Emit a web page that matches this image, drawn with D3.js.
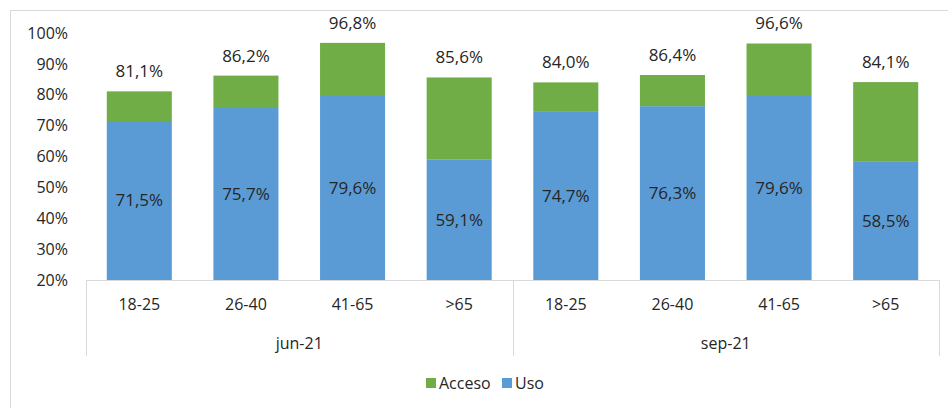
<!DOCTYPE html>
<html>
<head>
<meta charset="utf-8">
<script src="https://cdn.jsdelivr.net/npm/d3@7"></script>
<style>
  body { margin: 0; background: #fff; }
  text { font-family: "Open Sans", "Liberation Sans", sans-serif; fill: #262626; }
</style>
</head>
<body>
<div id="chart"></div>
<script>
// Data
const periods = ['jun-21', 'sep-21'];
const ageGroups = ['18-25', '26-40', '41-65', '>65'];
const usoJun = [71.5, 75.7, 79.6, 59.1];
const totalJun = [81.1, 86.2, 96.8, 85.6];
const usoSep = [74.7, 76.3, 79.6, 58.5];
const totalSep = [84.0, 86.4, 96.6, 84.1];
const yTicks = [20, 30, 40, 50, 60, 70, 80, 90, 100];

const WIDTH = 948;
const HEIGHT = 408;
const LEFT = 86;
const RIGHT = 939;
const TOP = 33;
const BOTTOM = 280;
const BLUE = '#5B9BD5';
const GREEN = '#70AD47';
const FONT = 16;

// one row per bar
const rows = [];
[[usoJun, totalJun], [usoSep, totalSep]].forEach(function(pair, p) {
  ageGroups.forEach(function(g, i) {
    rows.push({ key: periods[p] + '|' + g, age: g, period: periods[p], uso: pair[0][i], total: pair[1][i] });
  });
});

const fmt = v => v.toFixed(1).replace('.', ',') + '%';

const svg = d3.select('#chart').append('svg')
  .attr('width', WIDTH)
  .attr('height', HEIGHT);

// outer frame
svg.append('rect')
  .attr('x', 10.5).attr('y', 10.5)
  .attr('width', WIDTH).attr('height', HEIGHT)
  .attr('fill', 'none').attr('stroke', '#d9d9d9');

const xScale = d3.scaleBand()
  .domain(rows.map(d => d.key))
  .range([LEFT, RIGHT])
  .paddingInner(0.39)
  .paddingOuter(0.195);

const yScale = d3.scaleLinear()
  .domain([20, 100])
  .range([BOTTOM, TOP]);

// y axis labels
const yAxis = d3.axisLeft(yScale).tickValues(yTicks).tickFormat(d => d + '%').tickSize(0).tickPadding(0);
const gy = svg.append('g')
  .attr('transform', 'translate(68,0)')
  .call(yAxis);
gy.select('.domain').remove();
gy.selectAll('text').style('font-size', FONT + 'px').style('font-family', '"Open Sans", "Liberation Sans", sans-serif').attr('fill', '#262626');

// Uso bars
svg.selectAll('rect.uso')
  .data(rows)
  .enter()
  .append('rect')
  .attr('class', 'uso')
  .attr('x', d => xScale(d.key))
  .attr('y', d => yScale(d.uso))
  .attr('width', xScale.bandwidth())
  .attr('height', d => yScale(20) - yScale(d.uso))
  .attr('fill', BLUE);

// Acceso bars (stacked on Uso)
svg.selectAll('rect.acceso')
  .data(rows)
  .enter()
  .append('rect')
  .attr('class', 'acceso')
  .attr('x', d => xScale(d.key))
  .attr('y', d => yScale(d.total))
  .attr('width', xScale.bandwidth())
  .attr('height', d => yScale(d.uso) - yScale(d.total))
  .attr('fill', GREEN);

// labels inside the Uso part
svg.selectAll('text.uso-label')
  .data(rows)
  .enter()
  .append('text')
  .attr('class', 'uso-label')
  .attr('x', d => xScale(d.key) + xScale.bandwidth() / 2)
  .attr('y', d => yScale((20 + d.uso) / 2))
  .attr('dy', '0.35em')
  .attr('text-anchor', 'middle')
  .style('font-size', (FONT + 1) + 'px')
  .text(d => fmt(d.uso));

// total labels above each bar
svg.selectAll('text.total-label')
  .data(rows)
  .enter()
  .append('text')
  .attr('class', 'total-label')
  .attr('x', d => xScale(d.key) + xScale.bandwidth() / 2)
  .attr('y', d => yScale(d.total) - 20)
  .attr('dy', '0.35em')
  .attr('text-anchor', 'middle')
  .style('font-size', (FONT + 1) + 'px')
  .text(d => fmt(d.total));

// x axis baseline
svg.append('line')
  .attr('x1', LEFT).attr('x2', RIGHT)
  .attr('y1', BOTTOM + 0.5).attr('y2', BOTTOM + 0.5)
  .attr('stroke', '#d9d9d9');

// category labels
svg.selectAll('text.cat')
  .data(rows)
  .enter()
  .append('text')
  .attr('class', 'cat')
  .attr('x', d => xScale(d.key) + xScale.bandwidth() / 2)
  .attr('y', 304)
  .attr('dy', '0.35em')
  .attr('text-anchor', 'middle')
  .style('font-size', FONT + 'px')
  .text(d => d.age);

// group separators and labels
const step = xScale.step();
const groupEdges = [0, 4, 8].map(i => LEFT + i * step);
svg.selectAll('line.sep')
  .data(groupEdges)
  .enter()
  .append('line')
  .attr('class', 'sep')
  .attr('x1', d => Math.round(d) + 0.5).attr('x2', d => Math.round(d) + 0.5)
  .attr('y1', BOTTOM).attr('y2', 356)
  .attr('stroke', '#d9d9d9');

svg.selectAll('text.group')
  .data(periods)
  .enter()
  .append('text')
  .attr('class', 'group')
  .attr('x', (d, i) => (groupEdges[i] + groupEdges[i + 1]) / 2)
  .attr('y', 343)
  .attr('dy', '0.35em')
  .attr('text-anchor', 'middle')
  .style('font-size', FONT + 'px')
  .text(d => d);

// legend
const legend = [['Acceso', GREEN, 426], ['Uso', BLUE, 502]];
const lg = svg.selectAll('g.legend')
  .data(legend)
  .enter()
  .append('g')
  .attr('class', 'legend')
  .attr('transform', d => 'translate(' + d[2] + ',383)');
lg.append('rect')
  .attr('x', 0).attr('y', -5)
  .attr('width', 10).attr('height', 10)
  .attr('fill', d => d[1]);
lg.append('text')
  .attr('x', 13).attr('y', 0)
  .attr('dy', '0.35em')
  .style('font-size', FONT + 'px')
  .text(d => d[0]);
</script>
</body>
</html>
